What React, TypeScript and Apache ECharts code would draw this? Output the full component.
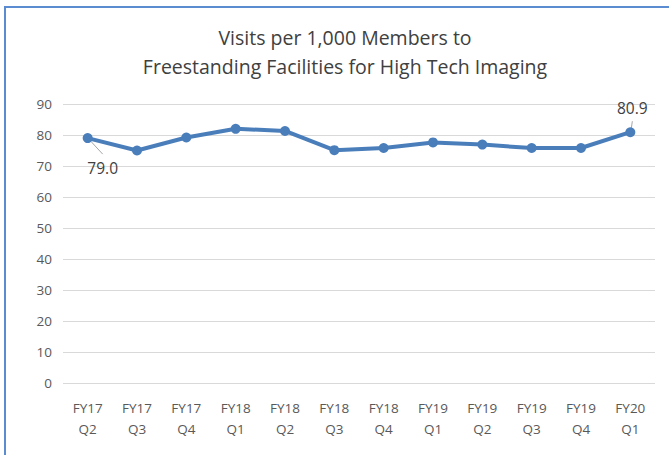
import React, { useEffect, useRef } from "react";
import * as echarts from "echarts";

const categories = ["FY17\nQ2", "FY17\nQ3", "FY17\nQ4", "FY18\nQ1", "FY18\nQ2", "FY18\nQ3", "FY18\nQ4", "FY19\nQ1", "FY19\nQ2", "FY19\nQ3", "FY19\nQ4", "FY20\nQ1"];
const visits = [79.0, 75.0, 79.2, 82.0, 81.3, 75.1, 75.8, 77.6, 76.9, 75.8, 75.8, 80.9];
const titleLines = ["Visits per 1,000 Members to", "Freestanding Facilities for High Tech Imaging"];

export default function App() {
  const ref = useRef<HTMLDivElement>(null);
  useEffect(() => {
    const chart = echarts.init(ref.current!, null, { renderer: "svg" });
    const last = visits.length - 1;
    chart.setOption({
      animation: false,
      backgroundColor: "#ffffff",
      title: {
        text: titleLines.join("\n"),
        left: 340,
        textAlign: "center",
        top: 18,
        textStyle: { fontFamily: "Open Sans", fontSize: 19.5, fontWeight: "normal", color: "#404040", lineHeight: 29 },
      },
      grid: { left: 63, right: 14, top: 104, bottom: 72 },
      xAxis: {
        type: "category",
        data: categories,
        boundaryGap: true,
        axisLine: { show: false },
        axisTick: { show: false },
        axisLabel: { color: "#595959", fontFamily: "Open Sans", fontSize: 13.5, lineHeight: 21, margin: 14 },
      },
      yAxis: {
        type: "value",
        min: 0,
        max: 90,
        interval: 10,
        axisLine: { show: false },
        axisTick: { show: false },
        splitLine: { lineStyle: { color: "#d9d9d9", width: 1 } },
        axisLabel: { color: "#595959", fontFamily: "Open Sans", fontSize: 13.5, margin: 11 },
      },
      series: [
        {
          type: "line",
          data: visits.map((v, i) => {
            if (i === 0) {
              return { value: v, label: { show: true, position: "bottom", offset: [15, 12] } };
            }
            if (i === last) {
              return { value: v, label: { show: true, position: "top", offset: [2, -6] } };
            }
            return v;
          }),
          symbol: "circle",
          symbolSize: 10,
          itemStyle: { color: "#4a7ebb" },
          lineStyle: { color: "#4a7ebb", width: 4 },
          label: {
            show: false,
            formatter: (p: any) => Number(p.value).toFixed(1),
            color: "#404040",
            fontFamily: "Open Sans",
            fontSize: 15.5,
          },
        },
      ],
    });
    const p0 = chart.convertToPixel({ gridIndex: 0 }, [0, visits[0]]);
    const pl = chart.convertToPixel({ gridIndex: 0 }, [last, visits[last]]);
    chart.setOption({
      graphic: [
        { type: "rect", shape: { x: 5, y: 7, width: 720, height: 520 }, style: { fill: "none", stroke: "#5B8BD0", lineWidth: 2 }, silent: true },
        { type: "line", shape: { x1: p0[0] + 3, y1: p0[1] + 3, x2: p0[0] + 15, y2: p0[1] + 16 }, style: { stroke: "#a6a6a6", lineWidth: 1 }, silent: true },
        { type: "line", shape: { x1: pl[0] + 1, y1: pl[1] - 4, x2: pl[0] + 2, y2: pl[1] - 11 }, style: { stroke: "#a6a6a6", lineWidth: 1 }, silent: true },
      ],
    });
    return () => chart.dispose();
  }, []);
  return <div ref={ref} style={{ position: "fixed", left: 0, top: 0, width: 669, height: 455 }} />;
}
